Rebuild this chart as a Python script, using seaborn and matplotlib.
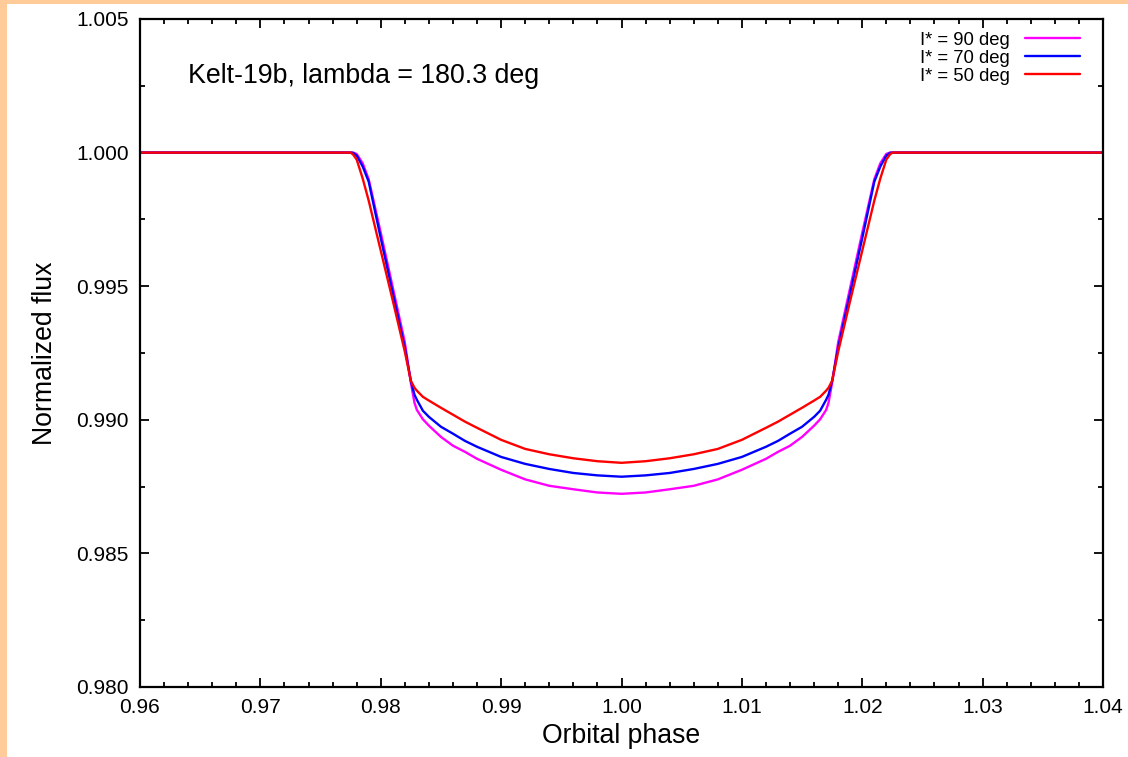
import numpy as np
import pandas as pd
import matplotlib
matplotlib.use("Agg")
import matplotlib.pyplot as plt
from matplotlib.patches import Rectangle
from matplotlib.ticker import MultipleLocator
import seaborn as sns

# ---- data ----
phase = [0.9600, 0.9775, 0.9777, 0.9780, 0.9785, 0.9790, 0.9800, 0.9810, 0.9820,
         0.9825, 0.9828, 0.9830, 0.9835, 0.9840, 0.9850, 0.9860, 0.9870, 0.9880,
         0.9900, 0.9920, 0.9940, 0.9960, 0.9980, 1.0000,
         1.0020, 1.0040, 1.0060, 1.0080, 1.0100, 1.0120, 1.0130, 1.0140, 1.0150,
         1.0160, 1.0165, 1.0170, 1.0172, 1.0175, 1.0180, 1.0190, 1.0200, 1.0210,
         1.0215, 1.0220, 1.0223, 1.0225, 1.0400]

flux_i90 = [1.00000, 1.00000, 1.00000, 0.99995, 0.99960, 0.99900, 0.99700, 0.99495, 0.99290,
            0.99139, 0.99064, 0.99037, 0.99002, 0.98978, 0.98936, 0.98903, 0.98880, 0.98854,
            0.98813, 0.98777, 0.98753, 0.98740, 0.98728, 0.98723,
            0.98728, 0.98740, 0.98753, 0.98777, 0.98813, 0.98854, 0.98880, 0.98903, 0.98936,
            0.98978, 0.99002, 0.99037, 0.99064, 0.99139, 0.99290, 0.99495, 0.99700, 0.99900,
            0.99960, 0.99995, 1.00000, 1.00000, 1.00000]

flux_i70 = [1.00000, 1.00000, 0.99999, 0.99989, 0.99948, 0.99891, 0.99680, 0.99475, 0.99270,
            0.99146, 0.99094, 0.99075, 0.99034, 0.99011, 0.98974, 0.98948, 0.98921, 0.98899,
            0.98861, 0.98835, 0.98816, 0.98801, 0.98792, 0.98787,
            0.98792, 0.98801, 0.98816, 0.98835, 0.98861, 0.98899, 0.98921, 0.98948, 0.98974,
            0.99011, 0.99034, 0.99075, 0.99094, 0.99146, 0.99270, 0.99475, 0.99680, 0.99891,
            0.99948, 0.99989, 0.99999, 1.00000, 1.00000]

flux_i50 = [1.00000, 1.00000, 0.99993, 0.99974, 0.99903, 0.99820, 0.99633, 0.99446, 0.99255,
            0.99146, 0.99120, 0.99109, 0.99086, 0.99072, 0.99045, 0.99019, 0.98993, 0.98970,
            0.98925, 0.98891, 0.98871, 0.98856, 0.98845, 0.98839,
            0.98845, 0.98856, 0.98871, 0.98891, 0.98925, 0.98970, 0.98993, 0.99019, 0.99045,
            0.99072, 0.99086, 0.99109, 0.99120, 0.99146, 0.99255, 0.99446, 0.99633, 0.99820,
            0.99903, 0.99974, 0.99993, 1.00000, 1.00000]

labels = ["I* = 90 deg", "I* = 70 deg", "I* = 50 deg"]
colors = ["#FF00FF", "#0000FF", "#FF0000"]
title_text = "Kelt-19b, lambda = 180.3 deg"
x_ticks = [0.96, 0.97, 0.98, 0.99, 1.00, 1.01, 1.02, 1.03, 1.04]
y_ticks = [0.980, 0.985, 0.990, 0.995, 1.000, 1.005]

# ---- build long table ----
frames = []
for lab, fl in zip(labels, [flux_i90, flux_i70, flux_i50]):
    frames.append(pd.DataFrame({"phase": phase, "flux": fl, "series": lab}))
df = pd.concat(frames, ignore_index=True)

sns.set_theme(style="white")
plt.rcParams["font.family"] = ["Liberation Sans", "DejaVu Sans"]
plt.rcParams["text.color"] = "black"
plt.rcParams["axes.labelcolor"] = "black"
plt.rcParams["xtick.color"] = "black"
plt.rcParams["ytick.color"] = "black"

fig = plt.figure(figsize=(11.28, 7.57), dpi=100, facecolor="white")
# peach border top and left
fig.patches.append(Rectangle((0, 1 - 4 / 757), 1, 4 / 757, transform=fig.transFigure,
                             facecolor="#FFCC99", edgecolor="none", zorder=0))
fig.patches.append(Rectangle((0, 0), 7 / 1128, 1, transform=fig.transFigure,
                             facecolor="#FFCC99", edgecolor="none", zorder=0))

ax = fig.add_axes([140 / 1128, 1 - 687 / 757, (1103 - 140) / 1128, (687 - 19) / 757])
ax.set_facecolor("white")

sns.lineplot(data=df, x="phase", y="flux", hue="series", hue_order=labels,
             palette=dict(zip(labels, colors)), estimator=None, sort=False,
             linewidth=1.7, ax=ax, legend=False)

ax.set_xlim(0.96, 1.04)
ax.set_ylim(0.980, 1.005)
ax.set_xticks(x_ticks)
ax.set_xticklabels([f"{v:.2f}" for v in x_ticks])
ax.set_yticks(y_ticks)
ax.set_yticklabels([f"{v:.3f}" for v in y_ticks])
ax.xaxis.set_minor_locator(MultipleLocator(0.002))
ax.yaxis.set_minor_locator(MultipleLocator(0.0025))
ax.tick_params(which="both", direction="in", top=True, right=True, bottom=True, left=True,
               color="black", width=1.3)
ax.tick_params(which="major", length=6.5, labelsize=15, pad=8)
ax.tick_params(which="minor", length=3.5)
for sp in ax.spines.values():
    sp.set_color("black")
    sp.set_linewidth(1.6)

ax.set_xlabel("Orbital phase", fontsize=19.2, labelpad=4)
ax.set_ylabel("Normalized flux", fontsize=19.2, labelpad=13)

ax.text(0.05, 0.915, title_text, transform=ax.transAxes, fontsize=19.3,
        ha="left", va="center")

handles = [plt.Line2D([0], [0], color=c, lw=1.7) for c in colors]
ax.legend(handles, labels, loc="upper right", frameon=False, markerfirst=False,
          fontsize=13.3, handlelength=3.0, handletextpad=0.8, labelspacing=0.05,
          borderaxespad=0.3, bbox_to_anchor=(0.99, 1.0))

fig.savefig("out.png", dpi=100, facecolor="white")
